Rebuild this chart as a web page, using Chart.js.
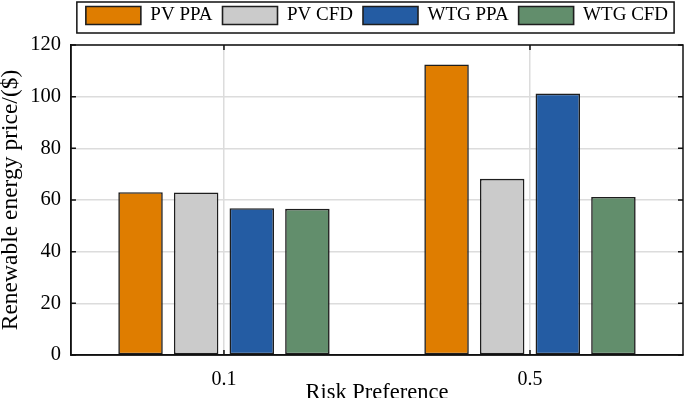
<!DOCTYPE html>
<html>
<head>
<meta charset="utf-8">
<script src="https://cdn.jsdelivr.net/npm/chart.js@4/dist/chart.umd.min.js"></script>
<style>
  html, body { margin: 0; padding: 0; background: #fff; }
  canvas { display: block; }
</style>
</head>
<body>
<canvas id="price_chart" width="685" height="398"></canvas>
<script>
const risk_levels = ['0.1', '0.5'];
const pv_ppa = [63.0, 112.5];
const pv_cfd = [62.9, 68.2];
const wtg_ppa = [56.8, 101.2];
const wtg_cfd = [56.6, 61.2];
const y_ticks = [0, 20, 40, 60, 80, 100, 120];

const serif = "'Liberation Serif', 'Times New Roman', serif";
const legend_extra = 10;

function make_dataset(label, data, colour) {
    return {
        label: label,
        data: data,
        backgroundColor: colour,
        borderColor: '#1e1e1e',
        borderWidth: 1.6,
        borderSkipped: false,
        categoryPercentage: 0.727,
        barPercentage: 0.80
    };
}

// leave some room between the legend and the plot
const legend_gap_plugin = {
    id: 'legend_gap',
    beforeLayout(chart) {
        const lg = chart.legend;
        if (lg && !lg._gap_patched) {
            const fit = lg.fit.bind(lg);
            lg.fit = function() { fit(); this.height += legend_extra; };
            lg._gap_patched = true;
        }
    }
};

// box round the plot, inward ticks on all four sides, frame round the legend
const frame_plugin = {
    id: 'frame',
    afterDraw(chart) {
        const ctx = chart.ctx;
        const a = chart.chartArea;
        const x = chart.scales.x;
        const y = chart.scales.y;
        ctx.save();
        ctx.strokeStyle = '#111';
        ctx.lineWidth = 1.5;
        ctx.strokeRect(a.left, a.top, a.right - a.left, a.bottom - a.top);
        const tick = 5;
        ctx.beginPath();
        risk_levels.forEach((r, i) => {
            const px = x.getPixelForValue(i);
            ctx.moveTo(px, a.bottom); ctx.lineTo(px, a.bottom - tick);
            ctx.moveTo(px, a.top); ctx.lineTo(px, a.top + tick);
        });
        y_ticks.forEach(v => {
            const py = y.getPixelForValue(v);
            ctx.moveTo(a.left, py); ctx.lineTo(a.left + tick, py);
            ctx.moveTo(a.right, py); ctx.lineTo(a.right - tick, py);
        });
        ctx.stroke();

        const boxes = chart.legend.legendHitBoxes;
        if (boxes && boxes.length) {
            const left = boxes[0].left - 9;
            const last = boxes[boxes.length - 1];
            const right = last.left + last.width + 6;
            ctx.lineWidth = 1.5;
            ctx.strokeRect(left, 2, right - left, 31);
        }
        ctx.restore();
    }
};

const chart = new Chart(document.getElementById('price_chart'), {
    type: 'bar',
    data: {
        labels: risk_levels,
        datasets: [
            make_dataset('PV PPA', pv_ppa, '#DF7D00'),
            make_dataset('PV CFD', pv_cfd, '#CBCBCB'),
            make_dataset('WTG PPA', wtg_ppa, '#245CA3'),
            make_dataset('WTG CFD', wtg_cfd, '#628E6C')
        ]
    },
    options: {
        responsive: false,
        animation: false,
        devicePixelRatio: 1,
        layout: { padding: { left: 0, right: 2, top: -4, bottom: -9 } },
        plugins: {
            tooltip: { enabled: false },
            legend: {
                position: 'top',
                fullSize: false,
                labels: {
                    boxWidth: 55,
                    boxHeight: 18,
                    padding: 10,
                    color: '#000',
                    font: { family: serif, size: 19 }
                }
            }
        },
        scales: {
            x: {
                grid: { offset: false, color: '#dcdcdc', lineWidth: 1.5, drawTicks: false },
                border: { color: '#111', width: 1.5 },
                ticks: { color: '#000', padding: 13, font: { family: serif, size: 20 } },
                title: {
                    display: true,
                    text: 'Risk Preference',
                    color: '#000',
                    padding: { top: -25, bottom: 0 },
                    font: { family: serif, size: 22.5 }
                }
            },
            y: {
                min: 0,
                max: 120,
                afterBuildTicks: axis => { axis.ticks = y_ticks.map(v => ({ value: v })); },
                grid: { color: '#dcdcdc', lineWidth: 1.5, drawTicks: false },
                border: { color: '#111', width: 1.5 },
                ticks: { color: '#000', padding: 10, font: { family: serif, size: 20.5 } },
                title: {
                    display: true,
                    text: 'Renewable energy price/($)',
                    color: '#000',
                    padding: { top: -3, bottom: -5 },
                    font: { family: serif, size: 23.5 }
                }
            }
        }
    },
    plugins: [legend_gap_plugin, frame_plugin]
});
</script>
</body>
</html>
